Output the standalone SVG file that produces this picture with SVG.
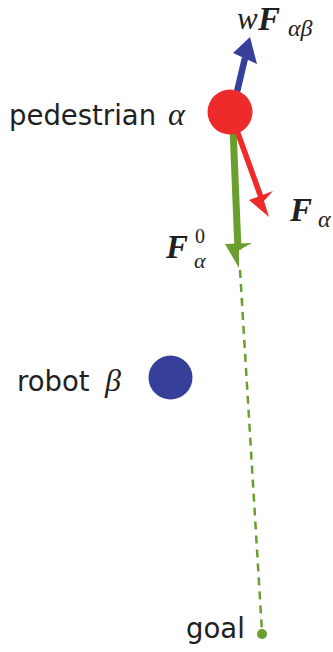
<svg xmlns="http://www.w3.org/2000/svg" width="333" height="652" viewBox="0 0 333 652">
<style>
.lbl{font-family:"DejaVu Sans",sans-serif;font-size:27.5px;fill:#231f20}
.m{font-family:"Liberation Serif",serif;font-style:italic;fill:#231f20}
.b{font-weight:bold;font-size:33px}
.s{font-size:24px}
</style>
<rect width="333" height="652" fill="#fff"/>
<g id="connectors">
<line x1="240" y1="270" x2="262" y2="632" stroke="#6a9e2e" stroke-width="2.5" stroke-dasharray="8,6"/>
<line x1="236" y1="96" x2="245" y2="58" stroke="#36409a" stroke-width="6.5"/>
<polygon points="250,37 233,53 257,64" fill="#36409a"/>
<line x1="233" y1="128" x2="238" y2="250" stroke="#6a9e2e" stroke-width="7"/>
<polygon points="239,268 225,244 252,243 239,250" fill="#6a9e2e"/>
<line x1="236" y1="128" x2="262" y2="200" stroke="#ee2b2b" stroke-width="5.5"/>
<polygon points="269,217 249,200 273,191 264,201" fill="#ee2b2b"/>
</g>
<g id="pedestrian">
<circle cx="230" cy="112" r="22.5" fill="#ee2b2b"/>
<text class="lbl" x="9" y="125">pedestrian</text>
<text class="m" x="168" y="125" font-size="32">α</text>
</g>
<g id="robot">
<circle cx="170.5" cy="377.5" r="22" fill="#36409a"/>
<text class="lbl" x="17" y="391">robot</text>
<text class="m" x="105" y="391" font-size="32">β</text>
</g>
<g id="goal">
<circle cx="262" cy="634" r="5" fill="#6a9e2e"/>
<text class="lbl" x="186" y="638">goal</text>
</g>
<g id="labels">
<text class="m" x="237" y="29" font-size="31">w</text>
<text class="m b" x="258" y="29.5">F</text>
<text class="m s" x="288" y="36">αβ</text>
<text class="m b" x="290" y="221">F</text>
<text class="m s" x="318" y="227">α</text>
<text class="m b" x="166" y="258">F</text>
<text x="195" y="243" font-size="20" font-family="Liberation Serif,serif" fill="#231f20">0</text>
<text class="m" x="194" y="268" font-size="22">α</text>
</g>
</svg>
